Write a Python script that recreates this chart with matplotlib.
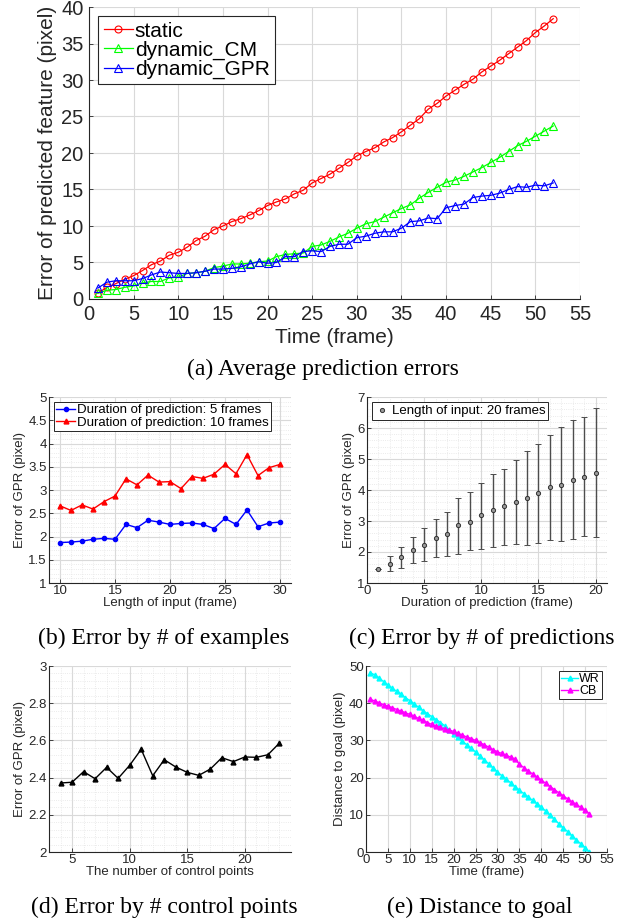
import numpy as np
import matplotlib
matplotlib.use("Agg")
import matplotlib.pyplot as plt
from matplotlib.ticker import MultipleLocator

plt.rcParams['font.family'] = ['Liberation Sans', 'DejaVu Sans']

# (a) average prediction errors
frames_a = np.arange(1, 53)
err_static = [0.8, 1.6, 2.1, 2.7, 3.2, 3.9, 4.7, 5.2, 6.0, 6.4,
              7.1, 8.0, 8.6, 9.5, 10.0, 10.6, 11.0, 11.5, 12.1, 12.8,
              13.3, 13.7, 14.4, 14.9, 15.9, 16.5, 17.1, 17.9, 18.7, 19.6,
              20.2, 20.7, 21.5, 22.1, 22.9, 23.8, 24.7, 26.0, 26.8, 27.8,
              28.6, 29.4, 30.1, 31.1, 31.9, 32.7, 33.6, 34.5, 35.4, 36.5,
              37.4, 38.4]
err_cm = [0.8, 1.2, 1.3, 1.6, 1.8, 2.2, 2.4, 2.4, 2.9, 3.0,
          3.5, 3.6, 3.8, 4.3, 4.5, 4.8, 4.8, 4.9, 5.1, 5.2,
          5.8, 6.1, 6.2, 6.3, 7.2, 7.4, 7.9, 8.5, 9.0, 9.7,
          10.3, 10.6, 11.2, 11.8, 12.4, 12.9, 13.8, 14.6, 15.3, 16.0,
          16.3, 16.8, 17.4, 18.0, 18.7, 19.4, 20.2, 21.0, 21.6, 22.3,
          23.0, 23.7]
err_gpr = [1.5, 2.3, 2.5, 2.5, 2.5, 2.8, 3.3, 3.7, 3.6, 3.5,
           3.5, 3.6, 3.8, 4.1, 4.1, 4.2, 4.4, 4.8, 5.1, 4.9,
           5.0, 5.8, 5.8, 6.5, 6.6, 6.5, 7.2, 7.5, 7.5, 8.4,
           8.6, 9.0, 9.2, 9.2, 9.7, 10.6, 10.7, 11.1, 11.0, 12.5,
           12.8, 13.0, 13.9, 14.1, 14.2, 14.5, 15.0, 15.4, 15.3, 15.6,
           15.5, 15.9]

# (b) error by length of input
input_len = np.arange(10, 31)
err_pred5 = [1.87, 1.88, 1.90, 1.94, 1.96, 1.94, 2.26, 2.19, 2.35, 2.31,
             2.26, 2.28, 2.29, 2.26, 2.17, 2.39, 2.26, 2.57, 2.21, 2.29, 2.31]
err_pred10 = [2.66, 2.56, 2.68, 2.59, 2.75, 2.87, 3.24, 3.11, 3.32, 3.17,
              3.18, 3.03, 3.29, 3.25, 3.34, 3.55, 3.35, 3.76, 3.31, 3.48, 3.55]

# (c) error by duration of prediction
pred_dur = np.arange(1, 21)
err_mean = [1.45, 1.62, 1.83, 2.07, 2.24, 2.45, 2.59, 2.86, 2.98, 3.18,
            3.34, 3.47, 3.61, 3.74, 3.89, 4.09, 4.17, 4.33, 4.42, 4.56]
err_upper = [1.45, 1.86, 2.15, 2.47, 2.78, 3.06, 3.30, 3.75, 3.93, 4.24,
             4.53, 4.68, 4.97, 5.27, 5.49, 5.79, 6.02, 6.26, 6.34, 6.66]
err_lower = [1.45, 1.40, 1.47, 1.66, 1.72, 1.83, 1.86, 1.95, 2.05, 2.09,
             2.16, 2.23, 2.25, 2.23, 2.28, 2.39, 2.36, 2.41, 2.52, 2.50]

# (d) error by number of control points
ctrl_pts = np.arange(4, 24)
err_ctrl = [2.371, 2.375, 2.432, 2.394, 2.455, 2.396, 2.466, 2.552, 2.410, 2.496,
            2.457, 2.428, 2.412, 2.446, 2.507, 2.486, 2.511, 2.509, 2.523, 2.586]

# (e) distance to goal
frames_e = np.arange(1, 52)
dist_wr = [48.2, 47.6, 46.8, 45.8, 44.9, 44.0, 43.2, 42.4, 41.5, 40.7,
           39.8, 38.9, 38.0, 37.2, 36.4, 35.6, 34.8, 33.9, 32.8, 31.7,
           30.8, 29.8, 28.8, 27.9, 26.9, 25.8, 24.8, 23.7, 22.6, 21.5,
           20.5, 19.6, 18.6, 17.6, 16.6, 15.7, 14.8, 13.9, 13.0, 12.1,
           11.0, 9.9, 8.8, 7.6, 6.5, 5.5, 4.4, 3.3, 2.2, 1.2, 0.0]
dist_cb = [41.0, 40.6, 40.1, 39.6, 39.2, 38.8, 38.3, 37.9, 37.4, 37.0,
           36.5, 35.9, 35.4, 34.8, 34.3, 33.9, 33.5, 33.1, 32.8, 32.4,
           31.9, 31.4, 30.9, 30.5, 30.0, 29.4, 28.8, 28.2, 27.5, 26.9,
           26.5, 26.0, 25.5, 25.0, 23.6, 22.7, 21.8, 21.0, 20.1, 19.3,
           18.5, 17.6, 16.8, 15.9, 15.1, 14.3, 13.5, 12.8, 12.0, 11.2, 10.3]

TICK_C = '#262626'
GRID_C = '#d9d9d9'
SMALL = 9.5


def matlab_style(ax, fs, minor=False, pad=1.5):
    ax.spines['top'].set_visible(False)
    ax.spines['right'].set_visible(False)
    for s in ('left', 'bottom'):
        ax.spines[s].set_color(TICK_C)
        ax.spines[s].set_linewidth(0.8)
    ax.tick_params(direction='in', labelsize=fs, colors=TICK_C, length=3,
                   width=0.6, pad=pad)
    ax.tick_params(which='minor', length=0)
    ax.grid(True, which='major', color=GRID_C, lw=0.8)
    if minor:
        ax.grid(True, which='minor', color='#e4e4e4', lw=0.6, ls=':')
    ax.set_axisbelow(True)


def caption(fig, x, y, text):
    fig.text(x / 625, 1 - y / 922, text, ha='center', va='center',
             fontsize=17, family='Liberation Serif')


def small_legend(ax, **kw):
    leg = ax.legend(fontsize=SMALL, borderpad=0.15, labelspacing=0.0,
                    handletextpad=0.15, borderaxespad=0.4, fancybox=False,
                    framealpha=1, edgecolor='#262626', **kw)
    leg.get_frame().set_linewidth(0.7)
    return leg


fig = plt.figure(figsize=(6.25, 9.22), dpi=100)

# ---- (a)
ax = fig.add_axes([89 / 625, 1 - 299 / 922, 491 / 625, 292 / 922])
ax.plot(frames_a, err_static, '-o', color='#ff0000', mfc='none', ms=5, mew=0.8,
        lw=0.9, label='static')
ax.plot(frames_a, err_cm, '-^', color='#00ff00', mfc='none', ms=5.5, mew=0.8,
        lw=0.9, label='dynamic_CM')
ax.plot(frames_a, err_gpr, '-^', color='#0000ff', mfc='none', ms=5.5, mew=0.8,
        lw=0.9, label='dynamic_GPR')
ax.set_xlim(0, 55)
ax.set_ylim(0, 40)
ax.xaxis.set_major_locator(MultipleLocator(5))
ax.yaxis.set_major_locator(MultipleLocator(5))
matlab_style(ax, 14.5, pad=4)
ax.set_xlabel('Time (frame)', fontsize=15, color=TICK_C, labelpad=3)
ax.set_ylabel('Error of predicted feature (pixel)', fontsize=15, color=TICK_C,
              labelpad=3)
leg = ax.legend(loc='upper left', fontsize=15, handlelength=1.4,
                borderpad=0.25, labelspacing=0.0, handletextpad=0.1,
                borderaxespad=0.45, fancybox=False, framealpha=1,
                edgecolor='#262626')
leg.get_frame().set_linewidth(0.8)
caption(fig, 323, 369, '(a) Average prediction errors')

# ---- (b)
ax = fig.add_axes([49 / 625, 1 - 583 / 922, 242 / 625, 186 / 922])
ax.plot(input_len, err_pred5, '-o', color='#0000ff', ms=3, lw=1.0,
        label='Duration of prediction: 5 frames')
ax.plot(input_len, err_pred10, '-^', color='#ff0000', ms=3.5, lw=1.0,
        label='Duration of prediction: 10 frames')
ax.set_xlim(9, 31)
ax.set_ylim(1, 5)
ax.xaxis.set_major_locator(MultipleLocator(5))
ax.xaxis.set_minor_locator(MultipleLocator(1))
ax.set_yticks(np.arange(1, 5.01, 0.5))
ax.set_yticklabels(['1', '1.5', '2', '2.5', '3', '3.5', '4', '4.5', '5'])
ax.yaxis.set_minor_locator(MultipleLocator(0.1))
matlab_style(ax, SMALL, minor=True)
ax.set_xlabel('Length of input (frame)', fontsize=SMALL, color=TICK_C,
              labelpad=0)
ax.set_ylabel('Error of GPR (pixel)', fontsize=SMALL, color=TICK_C, labelpad=2)
small_legend(ax, loc='upper left', handlelength=1.45)
caption(fig, 164, 638, '(b) Error by # of examples')

# ---- (c)
ax = fig.add_axes([367 / 625, 1 - 583 / 922, 240 / 625, 186 / 922])
yerr = [np.subtract(err_mean, err_lower), np.subtract(err_upper, err_mean)]
ax.errorbar(pred_dur, err_mean, yerr=yerr, fmt='o', color='#4d4d4d',
            mfc='#9a9a9a', mec='#333333', ms=3, mew=0.7, elinewidth=1.0,
            capsize=2.5, capthick=1.0, label='Length of input: 20 frames')
ax.set_xlim(0, 21)
ax.set_ylim(1, 7)
ax.xaxis.set_major_locator(MultipleLocator(5))
ax.xaxis.set_minor_locator(MultipleLocator(1))
ax.yaxis.set_major_locator(MultipleLocator(1))
ax.yaxis.set_minor_locator(MultipleLocator(0.2))
matlab_style(ax, SMALL, minor=True)
ax.set_xlabel('Duration of prediction (frame)', fontsize=SMALL, color=TICK_C,
              labelpad=0)
ax.set_ylabel('Error of GPR (pixel)', fontsize=SMALL, color=TICK_C, labelpad=2)
handles, labels = ax.get_legend_handles_labels()
leg = ax.legend([handles[0][0]], labels, loc='upper left', fontsize=SMALL,
                handlelength=1.0, borderpad=0.2, handletextpad=0.3,
                borderaxespad=0.4, fancybox=False, framealpha=1,
                edgecolor='#262626')
leg.get_frame().set_linewidth(0.7)
caption(fig, 482, 638, '(c) Error by # of predictions')

# ---- (d)
ax = fig.add_axes([49 / 625, 1 - 852 / 922, 242 / 625, 186 / 922])
ax.plot(ctrl_pts, err_ctrl, '-^', color='black', ms=3.5, lw=1.0)
ax.set_xlim(3, 24)
ax.set_ylim(2, 3)
ax.xaxis.set_major_locator(MultipleLocator(5))
ax.xaxis.set_minor_locator(MultipleLocator(1))
ax.set_yticks(np.arange(2, 3.01, 0.2))
ax.set_yticklabels(['2', '2.2', '2.4', '2.6', '2.8', '3'])
ax.yaxis.set_minor_locator(MultipleLocator(0.04))
matlab_style(ax, SMALL, minor=True)
ax.set_xlabel('The number of control points', fontsize=SMALL, color=TICK_C,
              labelpad=0)
ax.set_ylabel('Error of GPR (pixel)', fontsize=SMALL, color=TICK_C, labelpad=2)
caption(fig, 164, 907, '(d) Error by # control points')

# ---- (e)
ax = fig.add_axes([366 / 625, 1 - 852 / 922, 241 / 625, 186 / 922])
ax.plot(frames_e, dist_wr, '-^', color='#00ffff', ms=3.5, lw=1.0, label='WR')
ax.plot(frames_e, dist_cb, '-^', color='#ff00ff', ms=3.5, lw=1.0, label='CB')
ax.set_xlim(0, 55)
ax.set_ylim(0, 50)
ax.xaxis.set_major_locator(MultipleLocator(5))
ax.yaxis.set_major_locator(MultipleLocator(10))
matlab_style(ax, SMALL)
ax.set_xlabel('Time (frame)', fontsize=SMALL, color=TICK_C, labelpad=0)
ax.set_ylabel('Distance to goal (pixel)', fontsize=SMALL, color=TICK_C,
              labelpad=2)
leg = ax.legend(loc='upper right', fontsize=9, handlelength=1.35,
                borderpad=0.15, labelspacing=0.0, handletextpad=0.1,
                borderaxespad=0.4, fancybox=False, framealpha=1,
                edgecolor='#262626')
leg.get_frame().set_linewidth(0.7)
caption(fig, 480, 907, '(e) Distance to goal')

fig.savefig('out.png', dpi=100)
